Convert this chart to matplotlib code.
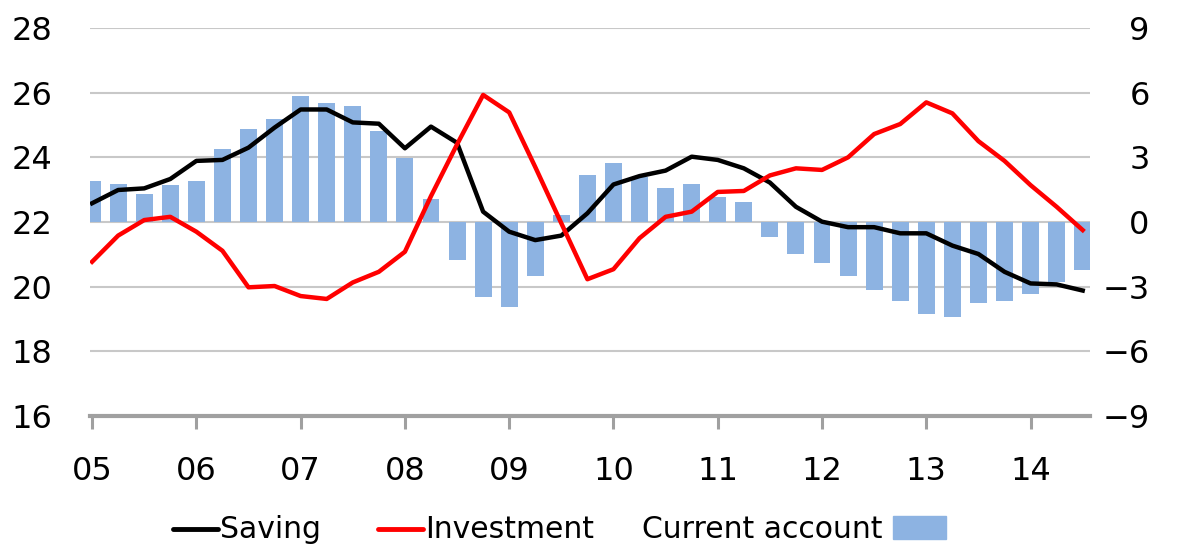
import matplotlib
matplotlib.use('Agg')
import matplotlib.pyplot as plt
from matplotlib.lines import Line2D
from matplotlib.patches import Rectangle
import numpy as np

# Quarterly data 2005Q1 - 2014Q3
year_labels = ['05', '06', '07', '08', '09', '10', '11', '12', '13', '14']
saving = [22.58, 22.99, 23.04, 23.33, 23.89, 23.92, 24.30, 24.92, 25.48, 25.48,
          25.08, 25.04, 24.28, 24.95, 24.45, 22.32, 21.70, 21.44, 21.58, 22.27,
          23.16, 23.42, 23.59, 24.02, 23.92, 23.66, 23.22, 22.47, 22.01, 21.84,
          21.84, 21.65, 21.65, 21.27, 21.01, 20.46, 20.10, 20.07, 19.88]
investment = [20.77, 21.58, 22.06, 22.16, 21.70, 21.11, 19.98, 20.02, 19.71, 19.62,
              20.13, 20.46, 21.08, 22.80, 24.40, 25.93, 25.39, 23.70, 21.96, 20.23,
              20.54, 21.50, 22.16, 22.32, 22.93, 22.96, 23.44, 23.66, 23.61, 24.00,
              24.72, 25.03, 25.70, 25.36, 24.50, 23.89, 23.14, 22.47, 21.75]
current_account = [1.92, 1.76, 1.30, 1.72, 1.92, 3.39, 4.31, 4.78, 5.86, 5.51,
                   5.38, 4.23, 2.98, 1.05, -1.76, -3.49, -3.96, -2.49, 0.32, 2.18,
                   2.72, 2.10, 1.59, 1.76, 1.17, 0.91, -0.68, -1.48, -1.89, -2.49,
                   -3.15, -3.66, -4.28, -4.42, -3.74, -3.66, -3.34, -2.80, -2.23]

x = np.arange(len(saving))
W, H = 1181, 545
FS = 23
LFS = 21.5
GRAY = '#a0a0a0'

fig = plt.figure(figsize=(W / 100, H / 100), dpi=100)
ax = fig.add_axes([90 / W, 129 / H, 1000 / W, 388 / H])
ax2 = ax.twinx()
ax.set_zorder(2)
ax2.set_zorder(1)
ax.patch.set_visible(False)

# bars on right axis
ax2.set_ylim(-9, 9)
ax2.set_yticks(range(-9, 10, 3))
ax2.grid(axis='y', color='#c8c8c8', lw=1.5)
ax2.set_axisbelow(True)
ax2.bar(x, current_account, width=0.65, color='#8db3e2', zorder=2)

# lines on left axis
ax.plot(x, saving, color='black', lw=3.2, solid_joinstyle='round')
ax.plot(x, investment, color='#ff0000', lw=3.2, solid_joinstyle='round')
ax.set_ylim(16, 28)
ax.set_yticks(range(16, 29, 2))
ax.set_xlim(-0.08, 38.28)
ax.set_xticks(np.arange(0, len(saving), 4))
ax.set_xticklabels(year_labels)

for a in (ax, ax2):
    for s in ('top', 'left', 'right'):
        a.spines[s].set_visible(False)
ax2.spines['bottom'].set_visible(False)
ax.spines['bottom'].set_color(GRAY)
ax.spines['bottom'].set_linewidth(3)

ax.tick_params(axis='x', length=9.5, width=2.2, color=GRAY, pad=19, labelsize=FS)
ax.tick_params(axis='y', length=0, pad=27, labelsize=FS)
ax2.tick_params(axis='y', length=0, pad=43, labelsize=FS)
for lab in ax2.get_yticklabels():
    lab.set_horizontalalignment('right')

# custom legend
def fx(px):
    return px / W

def fy(py):
    return (H - py) / H

ly = fy(529)
fig.add_artist(Line2D([fx(173), fx(218)], [ly, ly], color='black', lw=3.5,
                      solid_capstyle='round', transform=fig.transFigure))
fig.text(fx(220), fy(538), 'Saving', fontsize=LFS, va='baseline', ha='left')
fig.add_artist(Line2D([fx(378), fx(423)], [ly, ly], color='#ff0000', lw=3.5,
                      solid_capstyle='round', transform=fig.transFigure))
fig.text(fx(425), fy(538), 'Investment', fontsize=LFS, va='baseline', ha='left')
fig.text(fx(642), fy(538), 'Current account', fontsize=LFS, va='baseline', ha='left')
fig.add_artist(Rectangle((fx(893), fy(539)), fx(946) - fx(893), (539 - 516) / H,
                         color='#8db3e2', transform=fig.transFigure))

fig.savefig('out.png', dpi=100)
